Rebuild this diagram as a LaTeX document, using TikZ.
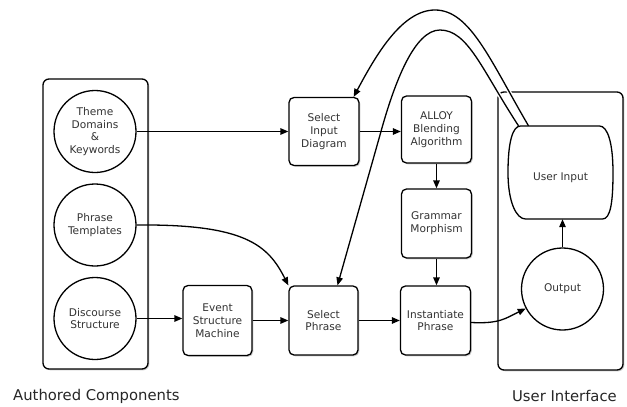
\documentclass[tikz,border=0pt]{standalone}
\usepackage{fontspec}
\setmainfont{DejaVu Sans}
\usetikzlibrary{arrows.meta,shadows,calc}
\begin{document}
\begin{tikzpicture}[x=1pt,y=-1pt,
  every node/.style={font=\fontsize{10.6}{12.8}\selectfont, text=black!80, align=center, inner sep=0pt},
  shad/.style={drop shadow={shadow xshift=1.3pt, shadow yshift=-1.3pt, opacity=0.2, fill=black}},
  container/.style={draw, line width=1.3pt, rounded corners=6pt, fill=white, shad},
  proc/.style={draw, line width=1.3pt, rounded corners=5pt, fill=white, minimum width=70pt, minimum height=68pt, shad},
  src/.style={draw, circle, line width=1.3pt, fill=white, minimum size=82pt},
  bigtxt/.style={font=\fontsize{14.8}{17}\selectfont, text=black!85},
  arr/.style={line width=1.3pt, -{Triangle[length=8pt,width=6.5pt]}},
  halo/.style={preaction={draw=white, line width=4pt, -, shorten >=7pt}}
]
\useasboundingbox (0,0) rectangle (627,407);
% containers
\node[container, minimum width=105pt, minimum height=290pt] (ac) at (95.5,224) {};
\node[container, minimum width=125pt, minimum height=278pt] (uic) at (560.5,231) {};
% authored components
\node[src] (theme) at (95,131.5) {Theme\\Domains\\\&\\Keywords};
\node[src] (templ) at (95,225) {Phrase\\Templates};
\node[src] (disc) at (95,318.5) {Discourse\\Structure};
% processes
\node[proc, minimum width=69pt, minimum height=70pt] (event) at (217.5,320.5) {Event\\Structure\\Machine};
\node[proc] (selin) at (324,131.5) {Select\\Input\\Diagram};
\node[proc, minimum width=69pt, minimum height=69pt] (selph) at (323.5,320.5) {Select\\Phrase};
\node[proc, minimum height=67pt] (alloy) at (436.5,129.5) {ALLOY\\Blending\\Algorithm};
\node[proc, minimum height=69pt] (gram) at (436.5,223.5) {Grammar\\Morphism};
\node[proc, minimum height=69pt] (inst) at (435.5,320.5) {Instantiate\\Phrase};
% user interface
\node[minimum width=105pt, minimum height=93pt] (ui) at (560.5,172.5) {};
\node[src] (out) at (562.5,289) {Output};
% feedback curves
\draw[arr, halo] ([xshift=-32pt]ui.north) .. controls (490,60) and (470,10) .. (435,10)
   .. controls (402,10) and (376,55) .. ([xshift=-6pt]selin.north east);
\draw[arr, halo] ([xshift=-42pt]ui.north) .. controls (482,70) and (468,30) .. (440,30)
   .. controls (415,30) and (395,80) .. (380,135) -- ([xshift=14pt]selph.north);
% user input shape
\draw[line width=1.3pt, fill=white, shift={(ui.center)}]
  (-40,-46.5) -- (39,-46.5) .. controls (47,-46.5) and (52.5,-30) .. (52.5,0)
  .. controls (52.5,30) and (50,46.5) .. (42,46.5) -- (-35,46.5)
  .. controls (-44,46.5) and (-52.5,30) .. (-52.5,0)
  .. controls (-52.5,-30) and (-48,-46.5) .. (-40,-46.5) -- cycle;
\node at ([yshift=-5pt]ui.center) {User Input};
% connectors
\draw[arr] (theme.east) -- (theme.east -| selin.west);
\draw[arr] (selin.east) -- (selin.east -| alloy.west);
\draw[arr] (alloy.south) -- (gram.north);
\draw[arr] (gram.south) -- (gram.south |- inst.north);
\draw[arr] (disc.east) -- (disc.east -| event.west);
\draw[arr] (event.east) -- (selph.west);
\draw[arr] (selph.east) -- (inst.west);
\draw[arr] (templ.east) .. controls (245,224) and (268,245) .. (selph.north west);
\draw[arr] ([yshift=-2pt]inst.east) .. controls (500,324) and (506,318) .. (out.208);
\draw[arr] (out.north) -- (ui.south -| out.north);
% labels
\node[bigtxt, anchor=base west] (lblac) at (13,400) {Authored Components};
\node[bigtxt, anchor=base east] (lblui) at (617,401) {User Interface};
\end{tikzpicture}
\end{document}
